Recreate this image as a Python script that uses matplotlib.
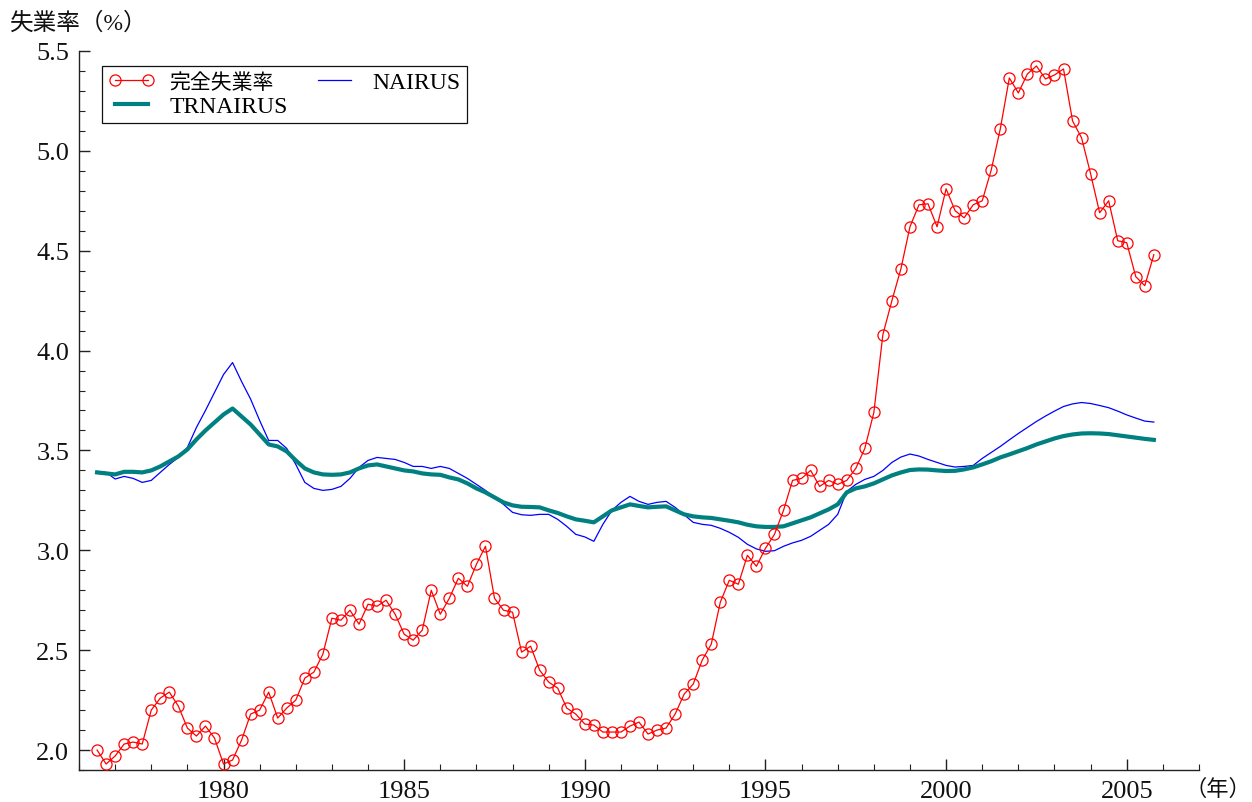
import matplotlib
matplotlib.use("Agg")
import matplotlib.pyplot as plt
from matplotlib.ticker import MultipleLocator, FormatStrFormatter
import numpy as np
import pandas as pd

plt.rcParams["font.family"] = ["Liberation Serif", "Noto Sans CJK JP"]

# Quarterly periods, 1976Q3 - 2005Q4
periods = pd.period_range("1976Q3", "2005Q4", freq="Q")
x_pos = periods.year + (periods.quarter - 1) / 4.0

# 完全失業率 (%)
unemployment = [
    2.00, 1.93, 1.97, 2.03, 2.04, 2.03, 2.20, 2.26, 2.29, 2.22,
    2.11, 2.07, 2.12, 2.06, 1.93, 1.95, 2.05, 2.18, 2.20, 2.29,
    2.16, 2.21, 2.25, 2.36, 2.39, 2.48, 2.66, 2.65, 2.70, 2.63,
    2.73, 2.72, 2.75, 2.68, 2.58, 2.55, 2.60, 2.80, 2.68, 2.76,
    2.86, 2.82, 2.93, 3.02, 2.76, 2.70, 2.69, 2.49, 2.52, 2.40,
    2.34, 2.31, 2.21, 2.18, 2.13, 2.125, 2.09, 2.09, 2.09, 2.12,
    2.14, 2.08, 2.10, 2.11, 2.18, 2.28, 2.33, 2.45, 2.53, 2.74,
    2.85, 2.83, 2.975, 2.92, 3.01, 3.08, 3.20, 3.35, 3.36, 3.40,
    3.32, 3.35, 3.33, 3.35, 3.41, 3.51, 3.69, 4.08, 4.25, 4.41,
    4.62, 4.73, 4.735, 4.62, 4.81, 4.70, 4.665, 4.73, 4.75, 4.905,
    5.11, 5.365, 5.29, 5.385, 5.425, 5.36, 5.38, 5.41, 5.15, 5.065,
    4.885, 4.69, 4.75, 4.55, 4.54, 4.37, 4.325, 4.48,
]

# NAIRUS (%)
nairus = [
    3.395, 3.39, 3.357, 3.37, 3.36, 3.34, 3.35, 3.39, 3.43, 3.465,
    3.515, 3.615, 3.70, 3.79, 3.88, 3.94, 3.845, 3.757, 3.65, 3.55,
    3.55, 3.51, 3.43, 3.34, 3.31, 3.30, 3.305, 3.32, 3.36, 3.415,
    3.45, 3.465, 3.46, 3.455, 3.44, 3.42, 3.42, 3.41, 3.42, 3.41,
    3.385, 3.36, 3.33, 3.30, 3.265, 3.23, 3.19, 3.178, 3.175, 3.18,
    3.18, 3.155, 3.12, 3.08, 3.067, 3.045, 3.13, 3.20, 3.24, 3.27,
    3.245, 3.23, 3.24, 3.245, 3.215, 3.178, 3.14, 3.13, 3.125, 3.11,
    3.09, 3.065, 3.03, 3.007, 2.995, 2.998, 3.02, 3.037, 3.05, 3.07,
    3.10, 3.13, 3.18, 3.295, 3.33, 3.355, 3.37, 3.40, 3.44, 3.467,
    3.482, 3.472, 3.455, 3.44, 3.425, 3.417, 3.42, 3.425, 3.46, 3.49,
    3.52, 3.553, 3.585, 3.615, 3.645, 3.672, 3.697, 3.72, 3.733, 3.74,
    3.735, 3.725, 3.714, 3.697, 3.678, 3.662, 3.647, 3.642,
]

# TRNAIRUS (%)
trnairus = [
    3.39, 3.385, 3.38, 3.393, 3.393, 3.39, 3.40, 3.42, 3.445, 3.47,
    3.505, 3.555, 3.60, 3.64, 3.68, 3.71, 3.67, 3.63, 3.58, 3.53,
    3.52, 3.495, 3.45, 3.41, 3.39, 3.38, 3.378, 3.38, 3.39, 3.41,
    3.425, 3.43, 3.42, 3.41, 3.40, 3.395, 3.385, 3.38, 3.378, 3.365,
    3.355, 3.335, 3.31, 3.29, 3.265, 3.24, 3.225, 3.218, 3.217, 3.215,
    3.20, 3.187, 3.17, 3.155, 3.148, 3.14, 3.17, 3.20, 3.215, 3.23,
    3.222, 3.215, 3.218, 3.22, 3.20, 3.18, 3.17, 3.165, 3.162, 3.155,
    3.148, 3.14, 3.128, 3.12, 3.117, 3.117, 3.12, 3.135, 3.15, 3.165,
    3.185, 3.205, 3.23, 3.29, 3.31, 3.32, 3.335, 3.355, 3.375, 3.39,
    3.402, 3.405, 3.404, 3.40, 3.397, 3.398, 3.405, 3.415, 3.43, 3.446,
    3.465, 3.48, 3.496, 3.512, 3.53, 3.545, 3.56, 3.572, 3.58, 3.585,
    3.586, 3.585, 3.582, 3.576, 3.57, 3.564, 3.558, 3.553,
]

fig = plt.figure(figsize=(12.52, 8.03), dpi=100)
ax = fig.add_axes([79 / 1252, 32 / 803, (1199 - 79) / 1252, (771 - 52) / 803])

ax.plot(x_pos, nairus, color="#0000ff", lw=0.9, label="NAIRUS", zorder=2)
ax.plot(x_pos, trnairus, color="#008080", lw=3.0, label="TRNAIRUS", zorder=3)
ax.plot(x_pos, unemployment, color="#ff0000", lw=0.9, marker="o", ms=8,
        mfc="none", mec="#ff0000", mew=0.9, label="完全失業率", zorder=4)

ax.set_xlim(1976, 2007)
ax.set_ylim(1.9, 5.5)

for side in ("top", "right"):
    ax.spines[side].set_visible(False)
for side in ("left", "bottom"):
    ax.spines[side].set_linewidth(1.0)
    ax.spines[side].set_color("#222222")

ax.xaxis.set_major_locator(MultipleLocator(5))
ax.xaxis.set_minor_locator(MultipleLocator(1))
ax.yaxis.set_major_locator(MultipleLocator(0.5))
ax.yaxis.set_minor_locator(MultipleLocator(0.1))
ax.yaxis.set_major_formatter(FormatStrFormatter("%.1f"))
ax.xaxis.set_major_formatter(FormatStrFormatter("%d"))

ax.tick_params(which="both", direction="in", colors="#222222", labelcolor="#111111",
               labelsize=19)
ax.tick_params(which="major", length=8, width=1.0)
ax.tick_params(which="minor", length=4.5, width=0.8)
ax.tick_params(axis="x", which="major", pad=7)
ax.tick_params(axis="y", which="major", pad=7)

handles, labels = ax.get_legend_handles_labels()
order = [2, 1, 0]
leg = ax.legend([handles[i] for i in order], [labels[i] for i in order],
                ncol=2, loc="upper left",
                bbox_to_anchor=(102 / 1252, 1 - 67 / 803),
                bbox_transform=fig.transFigure, borderaxespad=0,
                fontsize=17, numpoints=2, handlelength=2.0,
                handletextpad=0.6, columnspacing=1.0, labelspacing=0.1,
                borderpad=0.25, fancybox=False, framealpha=1,
                edgecolor="#111111")
leg.get_frame().set_linewidth(0.9)
leg.get_texts()[0].set_fontsize(15)

fig.text(10 / 1252, 1 - 24 / 803, "失業率（%）", fontsize=17,
         ha="left", va="center", color="#111111")
fig.text(1251 / 1252, 1 - 790 / 803, "（年）", fontsize=16,
         ha="right", va="center", color="#111111")

fig.savefig("out.png", dpi=100, facecolor="white")
